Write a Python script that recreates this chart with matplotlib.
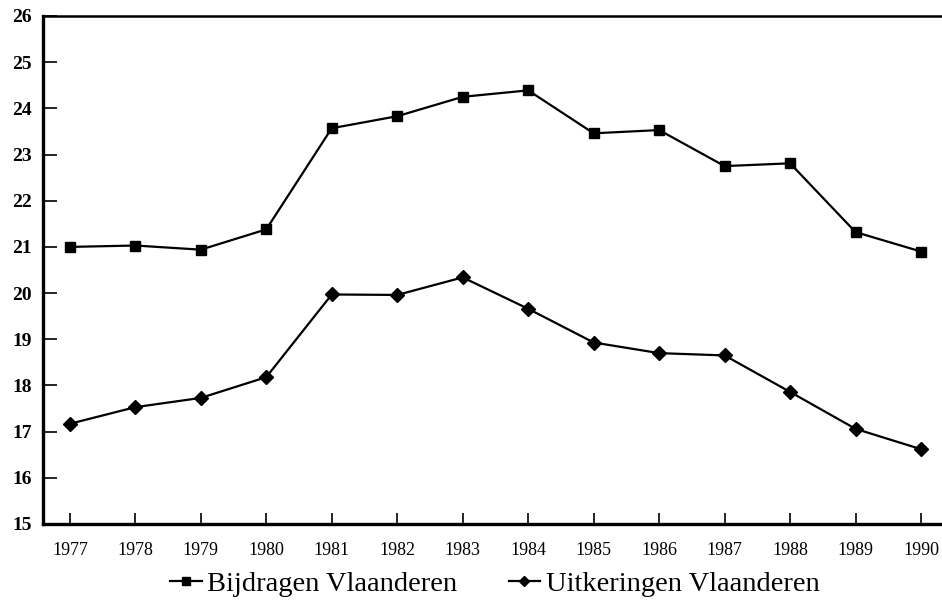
import matplotlib
matplotlib.use("Agg")
import matplotlib.pyplot as plt

years = [1977, 1978, 1979, 1980, 1981, 1982, 1983, 1984, 1985, 1986, 1987, 1988, 1989, 1990]
bijdragen = [21.00, 21.03, 20.94, 21.38, 23.57, 23.83, 24.25, 24.39, 23.46, 23.53, 22.75, 22.81, 21.32, 20.90]
uitkeringen = [17.17, 17.53, 17.73, 18.18, 19.97, 19.96, 20.34, 19.66, 18.93, 18.70, 18.65, 17.86, 17.06, 16.62]
yticks = list(range(15, 27))

plt.rcParams['font.family'] = ['Liberation Serif', 'DejaVu Serif']

fig = plt.figure(figsize=(9.42, 6.09), dpi=100)
ax = fig.add_axes([43/942, 1 - 524/609, (942 - 43)/942, (524 - 16)/609])

l1, = ax.plot(years, bijdragen, color='black', lw=1.6, marker='s', markersize=7.5,
              label='Bijdragen Vlaanderen')
l2, = ax.plot(years, uitkeringen, color='black', lw=1.6, marker='D', markersize=7.5,
              label='Uitkeringen Vlaanderen')

ax.set_xlim(1976.59, 1990.32)
ax.set_ylim(15, 26)
ax.set_xticks(years)
ax.set_xticklabels([str(y) for y in years], fontsize=13)
ax.set_yticks(yticks)
ax.set_yticklabels([str(v) for v in yticks], fontsize=14, fontweight='bold')

ax.spines['right'].set_visible(False)
ax.spines['left'].set_linewidth(2.4)
ax.spines['bottom'].set_linewidth(2.4)
ax.spines['top'].set_linewidth(1.8)

ax.tick_params(axis='y', direction='in', length=10, width=1.2, pad=8)
ax.tick_params(axis='x', direction='in', length=8, width=1.2, pad=13)

fig.legend(handles=[l1, l2], loc='center', bbox_to_anchor=(495/942, 1 - 584/609),
           ncol=2, frameon=False, fontsize=20.5, handlelength=1.1, handletextpad=0.2,
           columnspacing=1.8, markerscale=0.7)

fig.savefig('out.png', dpi=100)
